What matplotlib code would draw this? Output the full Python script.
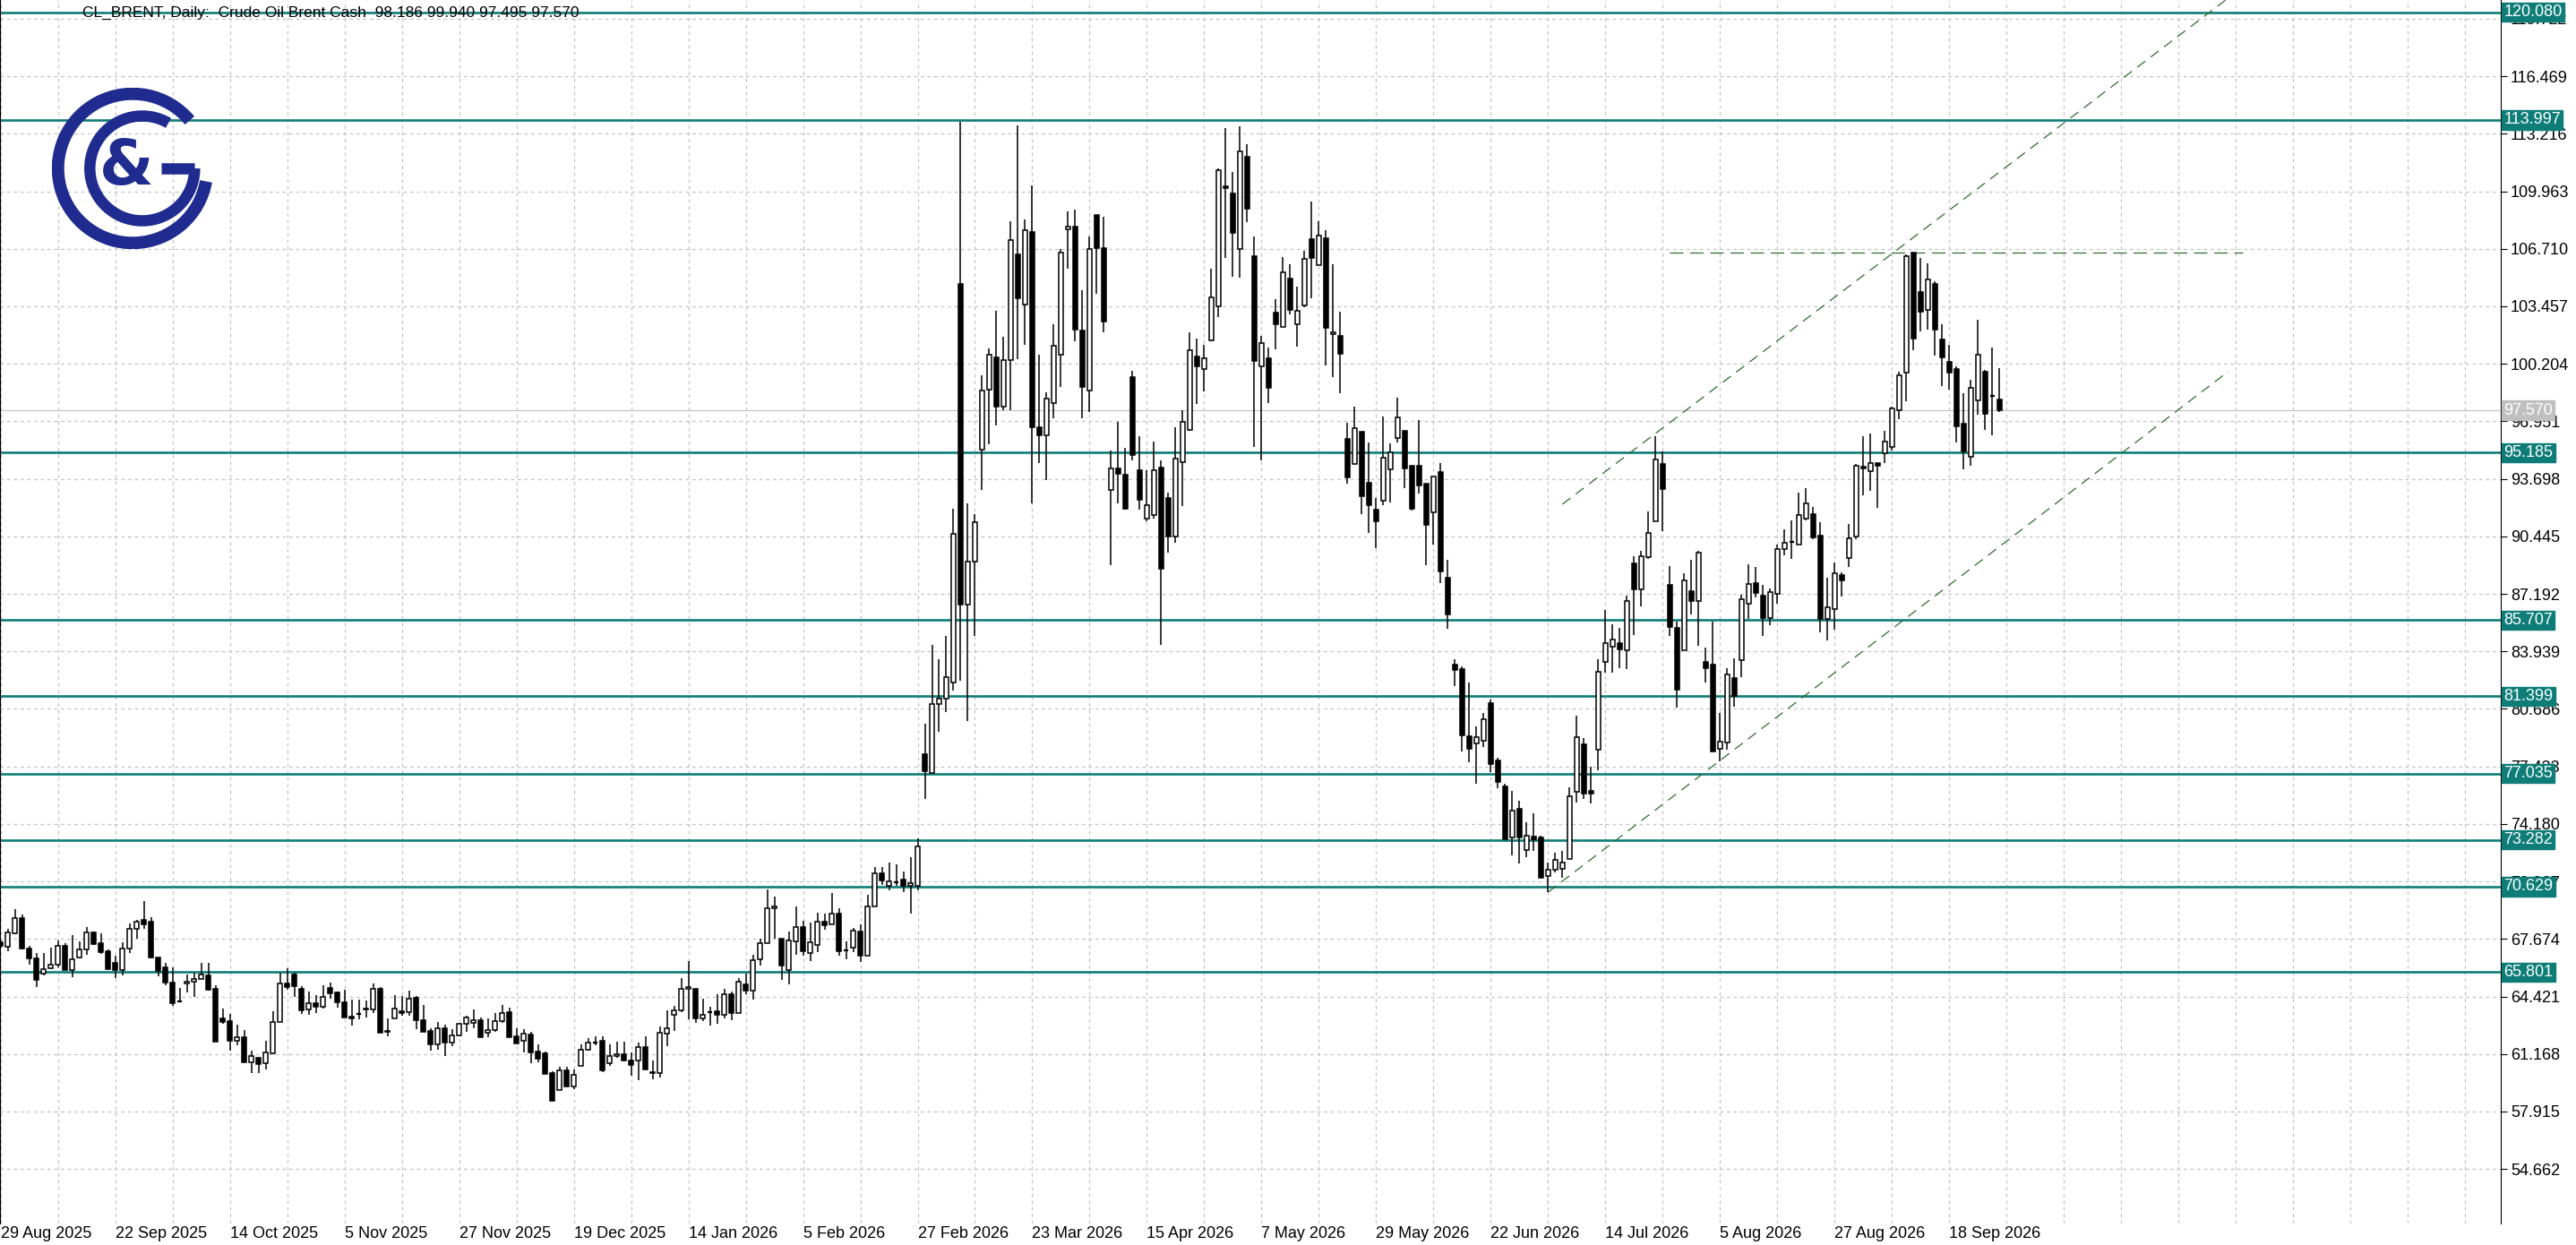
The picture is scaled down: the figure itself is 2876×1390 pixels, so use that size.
import matplotlib
matplotlib.use("Agg")
import matplotlib.pyplot as plt
from matplotlib.patches import Arc

# ---- data ----
opens = [67.5, 67.25, 68.0, 68.84, 67.12, 66.58, 65.73, 66.04, 66.24, 67.27,
         65.9, 66.61, 67.07, 68.03, 67.44, 66.98, 66.33, 65.94, 67.12, 68.23,
         68.74, 68.64, 66.61, 66.07, 65.19, 64.15, 65.14, 65.24, 65.4, 65.62,
         64.86, 63.18, 63.03, 61.93, 62.1, 60.72, 60.95, 60.63, 61.22, 63.0,
         65.16, 65.68, 64.86, 63.67, 64.03, 63.83, 64.91, 64.64, 64.08, 63.27,
         63.42, 63.74, 63.68, 64.84, 62.47, 63.17, 63.59, 63.52, 64.35, 63.07,
         62.47, 61.73, 62.61, 61.8, 62.24, 62.86, 62.91, 63.07, 62.36, 62.51,
         63.03, 63.52, 62.15, 61.9, 62.27, 61.29, 61.21, 60.09, 59.11, 60.23,
         59.32, 60.48, 61.39, 61.8, 61.9, 60.63, 61.03, 61.15, 60.78, 60.78,
         61.54, 60.16, 60.07, 62.3, 63.37, 63.65, 64.84, 64.85, 63.2, 63.54,
         63.57, 63.37, 64.55, 63.5, 65.09, 64.77, 66.54, 67.42, 69.4, 67.69,
         65.93, 67.55, 68.33, 66.86, 67.33, 68.64, 68.48, 69.11, 67.05, 67.2,
         68.08, 66.74, 69.53, 71.4, 70.7, 70.87, 71.02, 70.67, 70.67, 78.1,
         77.05, 80.94, 81.29, 82.16, 104.72, 86.57, 89.02, 95.33, 98.74, 100.58,
         97.78, 100.43, 106.41, 103.55, 107.64, 96.64, 96.17, 98.0, 100.7, 107.81,
         107.98, 102.1, 98.68, 108.6, 106.76, 93.05, 94.3, 93.92, 99.47, 94.16,
         91.44, 91.65, 94.36, 92.62, 90.46, 94.63, 96.45, 100.6, 99.9, 101.53,
         103.44, 110.25, 109.85, 106.7, 111.9, 106.31, 100.08, 100.53, 103.11, 102.3,
         105.03, 102.46, 103.49, 107.24, 105.8, 107.29, 101.88, 101.76, 95.98, 94.54,
         96.35, 93.49, 91.97, 92.44, 94.26, 96.0, 96.4, 94.42, 94.42, 93.44,
         91.79, 94.07, 88.1, 83.17, 82.95, 79.14, 78.75, 78.89, 81.03, 77.77,
         76.3, 73.43, 75.05, 72.68, 73.47, 73.39, 71.23, 71.58, 71.62, 72.21,
         76.02, 78.69, 76.06, 78.36, 83.36, 84.2, 84.39, 84.01, 88.91, 87.45,
         89.26, 91.31, 94.52, 87.71, 85.25, 84.01, 87.36, 86.77, 83.36, 83.17,
         78.44, 78.79, 82.42, 83.43, 86.65, 87.82, 87.09, 85.83, 87.19, 89.73,
         90.1, 90.0, 91.47, 91.68, 90.5, 85.77, 86.32, 88.24, 89.22, 90.45,
         94.39, 94.11, 94.58, 95.13, 95.52, 97.6, 99.73, 106.51, 104.29, 103.26,
         104.71, 101.56, 100.29, 99.9, 96.84, 94.93, 98.15, 99.77, 98.42, 98.186]
highs = [67.6, 68.23, 69.37, 69.05, 67.29, 66.87, 66.87, 67.17, 67.59, 67.46,
         67.9, 67.54, 68.35, 68.1, 67.98, 67.09, 66.71, 67.51, 68.56, 68.77,
         69.82, 68.91, 66.61, 66.33, 66.07, 64.89, 65.65, 65.74, 66.33, 66.33,
         65.06, 63.74, 63.42, 62.83, 62.53, 61.34, 61.0, 61.9, 63.59, 65.77,
         66.04, 65.74, 64.98, 64.69, 64.49, 65.06, 65.19, 64.72, 64.81, 64.25,
         64.25, 64.18, 65.14, 64.94, 63.2, 64.52, 64.47, 64.74, 64.45, 63.94,
         62.61, 62.98, 62.81, 62.58, 62.95, 63.34, 63.67, 63.25, 63.2, 63.51,
         63.93, 63.78, 62.61, 62.56, 62.41, 61.71, 61.29, 60.19, 60.45, 60.45,
         60.3, 61.71, 62.05, 62.18, 62.18, 61.71, 61.85, 61.85, 61.25, 61.8,
         62.18, 60.78, 62.74, 63.62, 63.87, 65.48, 66.41, 64.85, 64.29, 63.84,
         64.55, 64.85, 64.72, 65.48, 65.73, 66.79, 67.67, 70.46, 70.07, 67.69,
         68.1, 69.5, 68.72, 68.6, 69.16, 69.11, 70.29, 69.4, 67.56, 68.3,
         68.52, 70.16, 71.76, 71.75, 72.0, 71.9, 71.5, 72.3, 73.35, 79.83,
         84.3, 83.5, 84.8, 92.03, 113.9, 92.3, 91.68, 99.53, 101.07, 103.2,
         101.74, 108.28, 113.7, 108.37, 110.27, 100.72, 98.6, 102.44, 106.7, 108.8,
         108.95, 104.37, 107.43, 108.6, 108.51, 95.3, 96.9, 95.44, 99.82, 96.1,
         94.2, 95.8, 94.74, 92.9, 96.6, 97.57, 102.0, 101.65, 101.3, 105.56,
         111.27, 113.53, 111.04, 113.65, 112.6, 107.4, 101.76, 101.13, 103.86, 106.24,
         105.84, 104.56, 106.6, 109.38, 108.29, 107.78, 105.84, 103.16, 96.87, 97.8,
         96.35, 95.75, 92.62, 97.22, 95.7, 98.27, 96.4, 94.42, 97.03, 93.44,
         93.84, 94.58, 89.1, 83.5, 83.11, 82.16, 79.72, 80.44, 81.22, 77.9,
         76.45, 76.06, 75.48, 74.25, 74.8, 73.53, 72.01, 72.56, 72.65, 76.25,
         80.31, 79.02, 77.42, 83.5, 86.28, 85.45, 85.25, 87.1, 89.34, 89.63,
         91.83, 96.12, 95.24, 88.76, 85.6, 88.37, 89.11, 89.6, 84.14, 85.6,
         80.44, 82.98, 83.54, 87.13, 88.89, 88.69, 87.72, 87.48, 89.96, 90.84,
         91.33, 92.92, 93.18, 92.1, 91.27, 88.11, 88.99, 88.4, 91.13, 94.54,
         96.1, 96.24, 94.6, 96.43, 97.76, 99.75, 106.38, 106.51, 106.2, 105.9,
         104.87, 102.44, 101.27, 100.06, 98.54, 99.28, 102.69, 99.84, 101.11, 99.94]
lows = [67.2, 67.0, 67.93, 67.09, 66.24, 64.97, 65.6, 65.99, 66.07, 65.9,
        65.53, 66.58, 66.78, 67.34, 66.83, 65.99, 65.48, 65.6, 66.88, 67.68,
        68.27, 66.58, 65.57, 65.03, 63.91, 64.08, 64.64, 64.42, 65.4, 64.76,
        61.85, 62.87, 61.38, 61.68, 60.72, 60.08, 60.08, 60.3, 61.17, 63.0,
        64.81, 64.42, 63.45, 63.4, 63.47, 63.76, 64.3, 63.78, 63.25, 62.78,
        63.15, 63.24, 63.51, 62.39, 62.19, 63.17, 63.34, 63.35, 62.56, 62.44,
        61.38, 61.43, 61.04, 61.6, 62.15, 62.44, 62.64, 62.1, 62.1, 62.44,
        62.95, 62.14, 61.77, 61.26, 60.67, 60.72, 60.04, 58.51, 59.11, 59.32,
        59.2, 60.48, 61.34, 61.68, 60.16, 60.5, 60.97, 60.75, 59.94, 59.7,
        60.27, 59.73, 59.85, 61.63, 62.49, 63.53, 63.15, 62.94, 63.03, 62.78,
        62.89, 63.2, 63.06, 63.5, 64.55, 64.24, 66.15, 67.42, 67.67, 65.34,
        65.09, 66.8, 66.74, 66.41, 66.91, 68.18, 68.48, 66.74, 66.54, 66.91,
        66.37, 66.74, 69.53, 70.73, 70.43, 70.7, 70.3, 69.1, 70.43, 75.6,
        77.05, 79.4, 80.5, 81.73, 82.3, 80.0, 84.82, 93.05, 95.67, 96.7,
        97.57, 97.57, 100.49, 101.3, 92.3, 94.6, 93.63, 97.13, 98.88, 105.6,
        101.5, 97.13, 97.5, 104.14, 102.0, 88.8, 92.3, 91.94, 94.74, 91.94,
        91.3, 91.44, 84.3, 89.5, 90.06, 92.16, 96.4, 97.92, 98.62, 101.46,
        102.86, 106.19, 105.14, 105.07, 108.24, 95.51, 94.72, 97.99, 101.02, 102.3,
        103.0, 101.18, 103.39, 103.91, 105.8, 100.13, 99.43, 98.55, 93.42, 94.54,
        91.7, 90.64, 89.76, 92.2, 92.37, 95.75, 93.18, 91.9, 92.86, 88.83,
        89.99, 87.82, 85.21, 82.0, 78.3, 77.66, 76.45, 78.55, 77.13, 76.22,
        73.3, 72.4, 71.93, 72.3, 72.65, 71.15, 70.32, 71.43, 71.15, 72.21,
        75.38, 75.57, 75.32, 77.23, 82.72, 82.72, 83.0, 82.92, 84.86, 86.48,
        89.17, 91.31, 90.76, 84.82, 80.74, 84.01, 86.03, 84.24, 82.19, 78.3,
        77.72, 78.4, 80.8, 82.46, 85.77, 86.98, 84.83, 85.42, 86.65, 89.38,
        89.18, 89.96, 91.33, 90.29, 85.03, 84.54, 85.18, 87.04, 88.69, 90.29,
        92.75, 93.02, 92.05, 94.58, 95.28, 97.08, 98.11, 100.97, 102.05, 102.14,
        100.68, 98.93, 98.73, 95.77, 94.21, 94.44, 97.31, 96.45, 96.14, 97.495]
closes = [67.3, 68.05, 68.84, 67.12, 66.55, 65.35, 65.95, 66.24, 67.27, 65.94,
          66.53, 67.07, 68.03, 67.39, 66.95, 65.99, 65.94, 67.12, 68.23, 68.64,
          68.52, 66.61, 65.87, 65.19, 64.05, 64.13, 65.24, 65.4, 65.65, 64.81,
          61.85, 63.0, 61.93, 62.1, 60.72, 61.07, 60.62, 61.24, 63.0, 65.16,
          64.96, 64.98, 63.66, 64.03, 63.83, 64.4, 64.59, 64.08, 63.25, 63.17,
          63.42, 63.68, 64.84, 62.39, 62.41, 63.76, 63.51, 64.28, 63.07, 62.44,
          61.73, 62.61, 61.8, 62.24, 62.86, 63.22, 63.07, 62.1, 62.51, 63.03,
          63.49, 62.14, 61.77, 62.31, 61.28, 60.89, 60.04, 58.51, 60.23, 59.32,
          59.97, 61.39, 61.8, 61.82, 60.24, 61.03, 61.13, 60.78, 60.56, 61.54,
          60.27, 60.09, 62.35, 62.61, 63.65, 64.85, 64.94, 63.2, 63.37, 63.52,
          63.37, 64.55, 63.5, 65.26, 64.77, 66.49, 67.42, 69.4, 69.5, 66.15,
          67.6, 68.33, 67.0, 67.47, 68.64, 68.47, 69.11, 67.0, 67.03, 68.13,
          66.74, 69.53, 71.37, 71.0, 70.93, 70.87, 70.67, 70.82, 72.91, 77.14,
          80.94, 81.29, 82.46, 90.57, 86.57, 89.02, 91.24, 98.68, 100.72, 97.78,
          100.43, 107.2, 103.93, 107.78, 96.61, 96.17, 98.24, 101.22, 106.47, 107.98,
          102.15, 98.88, 106.7, 106.76, 102.6, 94.3, 93.98, 92.03, 95.04, 92.52,
          92.23, 94.2, 88.61, 90.46, 94.86, 96.91, 100.99, 100.06, 100.52, 103.98,
          111.16, 110.13, 107.59, 112.2, 108.99, 100.36, 101.37, 98.85, 102.46, 105.38,
          103.25, 103.2, 106.14, 106.19, 107.47, 102.23, 102.0, 100.76, 93.77, 96.59,
          92.72, 92.2, 91.32, 94.89, 95.19, 97.15, 94.3, 92.02, 93.32, 91.09,
          93.84, 88.48, 86.03, 82.88, 79.18, 78.44, 79.08, 80.11, 77.56, 76.55,
          73.3, 74.93, 73.43, 73.53, 73.33, 71.15, 71.58, 72.13, 72.01, 75.73,
          79.08, 75.9, 75.9, 82.78, 84.43, 84.63, 84.05, 86.77, 87.45, 89.3,
          90.63, 94.81, 93.1, 85.31, 81.75, 87.94, 86.81, 89.54, 82.97, 78.3,
          78.83, 82.65, 81.43, 86.9, 87.76, 87.23, 85.81, 87.27, 89.73, 90.1,
          90.12, 91.66, 92.3, 90.39, 85.77, 86.41, 88.34, 87.95, 90.31, 94.44,
          94.29, 94.58, 94.43, 95.81, 97.66, 99.57, 106.28, 101.64, 103.16, 104.97,
          102.15, 100.58, 99.71, 96.65, 95.26, 98.83, 100.74, 97.37, 98.4, 97.57]

date_labels = ['29 Aug 2025', '22 Sep 2025', '14 Oct 2025', '5 Nov 2025', '27 Nov 2025',
               '19 Dec 2025', '14 Jan 2026', '5 Feb 2026', '27 Feb 2026', '23 Mar 2026',
               '15 Apr 2026', '7 May 2026', '29 May 2026', '22 Jun 2026', '14 Jul 2026',
               '5 Aug 2026', '27 Aug 2026', '18 Sep 2026']
levels = [120.080, 113.997, 95.185, 85.707, 81.399, 77.035, 73.282, 70.629, 65.801]
price_ticks = [54.662, 57.915, 61.168, 64.421, 67.674, 70.927, 74.180, 77.433, 80.686,
               83.939, 87.192, 90.445, 93.698, 96.951, 100.204, 103.457, 106.710,
               109.963, 113.216, 116.469, 119.722]
last_price = 97.570
# trend lines: (bar, price) pairs
channel_low = [(216, 70.32), (311, 99.78)]
channel_high = [(218, 92.26), (311, 120.9)]
resist_line = [(233, 106.51), (313, 106.51)]

TEAL = '#0e7d78'
W, H = 2876, 1390
FONT = 'Liberation Sans'

fig = plt.figure(figsize=(W / 100, H / 100), dpi=100)
ax = fig.add_axes([0, 24 / H, 2792 / W, 1366 / H])
ax.set_xlim(-0.1, 349)
ax.set_ylim(51.58, 120.78)

# grid
for gx in range(0, 349, 8):
    ax.axvline(gx, color='#c4c4c4', lw=0.9, ls=(0, (3, 3)), zorder=0)
for gy in price_ticks:
    ax.axhline(gy, color='#c4c4c4', lw=0.9, ls=(0, (3, 3)), zorder=0)

# support / resistance levels
for lv in levels:
    ax.axhline(lv, color=TEAL, lw=1.9, zorder=1)
ax.axhline(last_price, color='#c0c0c0', lw=0.8, zorder=1)

# channel and resistance
for pts, dash in [(channel_low, (0, (9, 6))), (channel_high, (0, (9, 6))),
                  (resist_line, (0, (12, 6)))]:
    xs, ys = zip(*pts)
    ax.plot(xs, ys, color='#2e6b2e', lw=0.9, ls=dash, zorder=2)

# candles
for i, (o, h, l, c) in enumerate(zip(opens, highs, lows, closes)):
    ax.vlines(i, l, h, color='black', lw=1.1, zorder=3)
    bottom, top = min(o, c), max(o, c)
    face = 'white' if c >= o else 'black'
    if top - bottom < 0.05:
        ax.hlines(c, i - 0.32, i + 0.32, color='black', lw=1.6, zorder=4)
    else:
        ax.bar(i, top - bottom, bottom=bottom, width=0.62, color=face,
               edgecolor='black', lw=1.1, zorder=4)

# axes styling
for s in ['top', 'bottom']:
    ax.spines[s].set_visible(False)
ax.spines['left'].set_color('black')
ax.spines['right'].set_color('black')
ax.yaxis.tick_right()
ax.set_yticks(price_ticks)
ax.set_yticklabels([f'{p:.3f}' for p in price_ticks], fontsize=13, family=FONT)
ax.tick_params(axis='y', length=5, pad=3)
ax.set_xticks(range(0, 16 * len(date_labels), 16))
ax.set_xticklabels(date_labels, fontsize=13, ha='left', family=FONT)
ax.tick_params(axis='x', length=0, pad=2)

# right-side level tags
for lv in levels:
    ax.text(1.0012, lv, f'{lv:.3f}', transform=ax.get_yaxis_transform(),
            va='center', ha='left', fontsize=13, color='white', zorder=10, family=FONT,
            bbox=dict(boxstyle='square,pad=0.12', fc=TEAL, ec=TEAL))
ax.text(1.0012, last_price, f'{last_price:.3f}', transform=ax.get_yaxis_transform(),
        va='center', ha='left', fontsize=13, color='white', zorder=10, family=FONT,
        bbox=dict(boxstyle='square,pad=0.12', fc='#c0c0c0', ec='#c0c0c0'))

# title
ax.text(92 / 2792, 1 - 14 / 1366,
        'CL_BRENT, Daily:  Crude Oil Brent Cash  98.186 99.940 97.495 97.570',
        transform=ax.transAxes, fontsize=12.5, va='center', ha='left', zorder=10,
        family=FONT)

# logo
NAVY = '#1f2b8f'
lax = fig.add_axes([58 / W, 1 - 278 / H, 180 / W, 180 / H])
lax.set_xlim(-1, 1)
lax.set_ylim(-1, 1)
lax.set_aspect('equal')
lax.axis('off')
lax.add_patch(Arc((0, 0), 1.85, 1.85, theta1=40, theta2=350, lw=10, color=NAVY))
lax.add_patch(Arc((0.12, 0), 1.3, 1.3, theta1=60, theta2=360, lw=9, color=NAVY))
lax.plot([0.35, 0.77], [0, 0], color=NAVY, lw=9, solid_capstyle='butt')
lax.text(-0.08, 0.02, '&', fontsize=50, fontweight='bold', color=NAVY,
         ha='center', va='center')

fig.savefig('out.png', dpi=100)
